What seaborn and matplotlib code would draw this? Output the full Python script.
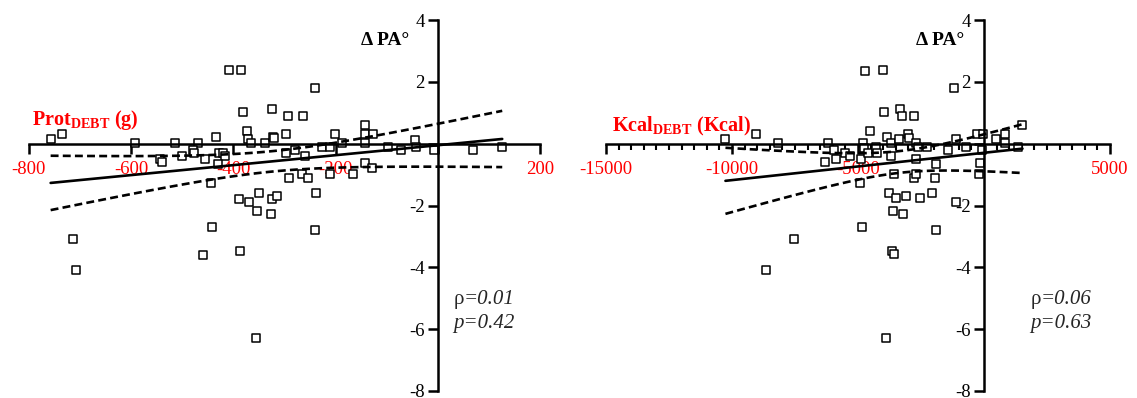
import numpy as np
import seaborn as sns
import matplotlib.pyplot as plt
from matplotlib.ticker import MultipleLocator
from matplotlib.transforms import offset_copy

# Prot_DEBT (g) vs delta PA
prot_x = [-757, -735, -592, -514, -468, -434, -409, -385, -381, -373, -371, -365, -337, -325,
          -322, -320, -296, -292, -264, -241, -227, -210, -201, -187, -143, -143, -143, -127,
          -97, -72, -44, -42, -7, 69, 126,
          -544, -539, -500, -479, -476, -455, -427, -420, -416, -429, -297, -280, -259, -143,
          -129, -290, -266, -254, -210, -166, -443,
          -388, -369, -350, -353, -327, -324, -315, -239, -441, -241, -714, -707, -460, -387, -355]
prot_y = [0.14, 0.31, 0.01, 0.01, 0.01, 0.23, 2.40, 2.37, 1.01, 0.42, 0.14, 0.01, 0.01, 1.11,
          0.23, 0.18, 0.31, 0.91, 0.91, 1.81, -0.10, -0.10, 0.31, 0.01, 0.61, 0.31, 0.01, 0.31,
          -0.10, -0.20, 0.12, -0.10, -0.20, -0.20, -0.10,
          -0.51, -0.59, -0.40, -0.20, -0.29, -0.51, -0.29, -0.29, -0.40, -0.67, -0.31, -0.20, -0.40, -0.61,
          -0.77, -1.10, -0.99, -1.10, -0.99, -0.99, -1.28,
          -1.80, -1.88, -1.60, -2.19, -2.28, -1.80, -1.69, -1.58, -2.69, -2.79, -3.09, -4.08, -3.59, -3.47, -6.28]

# Kcal_DEBT (Kcal) vs delta PA
kcal_x = [-10261, -9033, -8158, -6210, -6323, -5956, -5857, -5533, -5335, -4869, -4799, -4771,
          -4728, -4587, -4545, -4305, -4263, -4023, -3980, -3839, -3698, -3698, -3387, -3317,
          -3275, -3035, -2992, -2795, -2710, -2710, -2611, -2258, -1905, -1440, -1200, -1129,
          -706, -282, -28, -71, -141, -212, 494, 819, 819, 1341, 1524,
          -3557, -2795, -2682, -1948, -4940,
          -3769, -3500, -3105, -2541, -2075, -1101, -3599, -3204, -4841, -1905, -7551, -8638,
          -3670, -3585, -3881]
kcal_y = [0.14, 0.31, 0.01, 0.01, -0.58, -0.20, -0.51, -0.31, -0.40, -0.48, 0.01, -0.13,
          2.34, -0.31, 0.42, -0.10, -0.31, 2.40, 1.01, 0.23, 0.01, -0.40, 0.14, 1.11,
          0.91, 0.31, 0.18, 0.91, 0.01, -0.51, -0.10, -0.10, -0.67, -0.20, 1.81, 0.14,
          -0.10, 0.31, 0.31, -0.20, -0.61, -0.99, 0.14, 0.31, 0.01, -0.10, 0.61,
          -0.99, -1.10, -0.99, -1.10, -1.28,
          -1.58, -1.77, -1.69, -1.77, -1.58, -1.88, -2.19, -2.28, -2.69, -2.79, -3.09, -4.08,
          -3.47, -3.58, -6.28]

panels = [
    dict(x=prot_x, y=prot_y, xlim=(-800, 200), xticks=[-800, -600, -400, -200, 0, 200],
         label=r'Prot$_{\mathbf{DEBT}}$ (g)', label_xy=(-794, 0.59), pa_x=-103,
         rho='0.01', p='0.42', txt_x=30, minor=None),
    dict(x=kcal_x, y=kcal_y, xlim=(-15000, 5000), xticks=[-15000, -10000, -5000, 0, 5000],
         label=r'Kcal$_{\mathbf{DEBT}}$ (Kcal)', label_xy=(-14776, 0.38), pa_x=-1751,
         rho='0.06', p='0.63', txt_x=1850, minor=500),
]

sns.set_theme(style='white')
plt.rcParams['font.family'] = ['Liberation Serif', 'DejaVu Serif']
plt.rcParams['mathtext.fontset'] = 'custom'
plt.rcParams['mathtext.rm'] = 'Liberation Serif'
plt.rcParams['mathtext.it'] = 'Liberation Serif:italic'
plt.rcParams['mathtext.bf'] = 'Liberation Serif:bold'


def fit_band(x, y, xs):
    b, a = np.polyfit(x, y, 1)
    n = len(x)
    resid = y - (a + b * x)
    s = np.sqrt(np.sum(resid ** 2) / (n - 2))
    se = s * np.sqrt(1 / n + (xs - x.mean()) ** 2 / np.sum((x - x.mean()) ** 2))
    fit = a + b * xs
    return fit, fit - 1.99 * se, fit + 1.99 * se


fig = plt.figure(figsize=(11.37, 3.98), dpi=100)
lefts = [0.0252, 0.533]
widths = [0.4498, 0.4433]

for i, pn in enumerate(panels):
    ax = fig.add_axes([lefts[i], 0.0176, widths[i], 0.932])
    x = np.array(pn['x'], dtype=float)
    y = np.array(pn['y'], dtype=float)
    sns.scatterplot(x=x, y=y, ax=ax, marker='s', s=32, facecolor='white',
                    edgecolor='black', linewidth=1.1)
    xs = np.linspace(x.min(), x.max(), 100)
    fit, lo, hi = fit_band(x, y, xs)
    ax.plot(xs, fit, color='black', lw=1.9)
    ax.plot(xs, lo, color='black', lw=1.9, dashes=(3, 1.6))
    ax.plot(xs, hi, color='black', lw=1.9, dashes=(3, 1.6))

    ax.set_xlim(*pn['xlim'])
    ax.set_ylim(-8, 4)
    ax.spines['left'].set_position(('data', 0))
    ax.spines['bottom'].set_position(('data', 0))
    ax.spines['top'].set_visible(False)
    ax.spines['right'].set_visible(False)
    for sp in ('left', 'bottom'):
        ax.spines[sp].set_linewidth(1.8)
        ax.spines[sp].set_color('black')
    ax.set_axisbelow(True)

    ax.set_xticks(pn['xticks'])
    ax.set_xticklabels(['' if t == 0 else str(t) for t in pn['xticks']])
    yt = [-8, -6, -4, -2, 0, 2, 4]
    ax.set_yticks(yt)
    ax.set_yticklabels(['' if t == 0 else str(t) for t in yt])
    ax.tick_params(axis='x', direction='out', length=7.5, width=1.8, color='black',
                   labelcolor='red', labelsize=13.5, pad=5, bottom=True)
    ax.tick_params(axis='y', direction='out', length=7.5, width=1.8, color='black',
                   labelcolor='black', labelsize=13.5, pad=2, left=True)
    if pn['minor']:
        ax.xaxis.set_minor_locator(MultipleLocator(pn['minor']))
        ax.tick_params(axis='x', which='minor', direction='out', length=4.5, width=1.5,
                       color='black', bottom=True)

    ax.text(pn['label_xy'][0], pn['label_xy'][1], pn['label'], color='red', fontsize=14.5,
            fontweight='bold', ha='left', va='baseline')
    ax.text(pn['pa_x'], 3.2, 'Δ PA°', color='black', fontsize=14, fontweight='bold',
            ha='center', va='baseline')
    # rho upright, the rest italic
    ax.text(pn['txt_x'], -5.18, 'ρ', fontsize=15, ha='left', va='baseline')
    shifted = offset_copy(ax.transData, fig=fig, x=10, y=0, units='dots')
    ax.text(pn['txt_x'], -5.18, '=' + pn['rho'], fontsize=15, fontstyle='italic',
            ha='left', va='baseline', transform=shifted)
    ax.text(pn['txt_x'], -5.95, 'p=' + pn['p'], fontsize=15, fontstyle='italic',
            ha='left', va='baseline')
    ax.set_xlabel('')
    ax.set_ylabel('')

fig.savefig('out.png', dpi=100)
